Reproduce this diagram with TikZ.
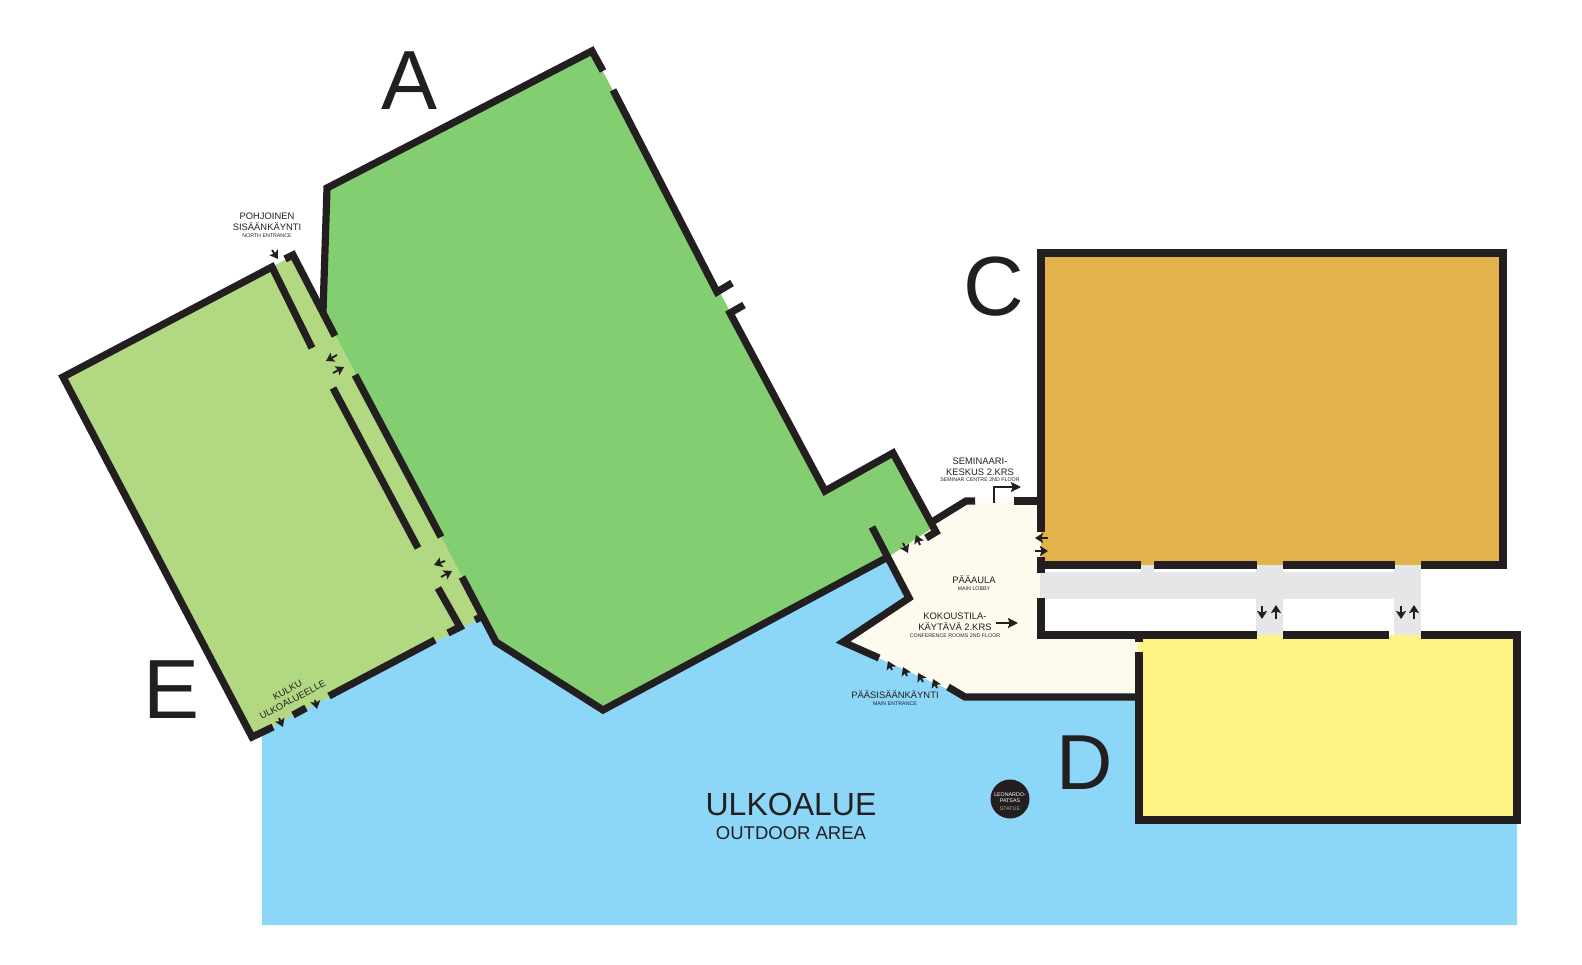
\documentclass[tikz,border=0pt]{standalone}
\usepackage{fontspec}
\setmainfont{Liberation Sans}
\usetikzlibrary{arrows.meta}
\definecolor{inkdark}{HTML}{231F20}
\definecolor{greenA}{HTML}{83CE70}
\definecolor{greenE}{HTML}{B3D882}
\definecolor{orangeC}{HTML}{E2B34B}
\definecolor{yellowD}{HTML}{FFF383}
\definecolor{outdoor}{HTML}{8CD6F8}
\definecolor{lobby}{HTML}{FFFAEE}
\definecolor{corridor}{HTML}{E5E6E8}
\newcommand{\sz}[1]{\fontsize{#1}{#1}\selectfont}
\tikzset{
  wall/.style={draw=inkdark,line width=7.2pt,miter limit=10},
  smallarrow/.style={draw=inkdark,line width=1.9pt,-{Stealth[length=8pt,width=10pt,inset=1.5pt]}},
  bigarrow/.style={draw=inkdark,line width=2.2pt,-{Stealth[length=10pt,width=10pt,inset=1.5pt]}},
  letter/.style={text=inkdark,font=\sz{84}},
  label/.style={text=inkdark,align=center,inner sep=0pt,font=\sz{9.4}},
  sublabel/.style={text=inkdark,inner sep=0pt,font=\sz{5.3}}
}
\begin{document}
\begin{tikzpicture}[x=1pt,y=-1pt]
\useasboundingbox (0,0) rectangle (1582,965);

\fill[outdoor] (262,725) -- (483,610) -- (496,642) -- (603,710) -- (888,557) -- (909,598) -- (843,642) -- (965,697) -- (1138,697) -- (1138,820) -- (1517,820) -- (1517,925) -- (262,925) -- cycle;
\fill[lobby] (888,557) -- (934,527) -- (966,501) -- (1040,501) -- (1040,636) -- (1138,636) -- (1138,697) -- (965,697) -- (948,687) -- (843,642) -- (909,598) -- cycle;
\fill[greenA] (592,51) -- (825,491) -- (893,453) -- (934,527) -- (888,557) -- (603,710) -- (496,642) -- (323,312) -- (327,188) -- cycle;
\fill[greenE] (63,377) -- (272,267) -- (293,255) -- (483,617) -- (252,737) -- cycle;
\fill[orangeC] (1041,253) rectangle (1503,565);
\fill[corridor] (1040,572) rectangle (1421,599);
\fill[corridor] (1141,565) rectangle (1154,572);
\fill[corridor] (1256,565) rectangle (1283,636);
\fill[corridor] (1394,565) rectangle (1421,636);
\fill[yellowD] (1138,635) rectangle (1517,820);

% building A
\draw[wall] (603,71) -- (592,51) -- (327,188) -- (323,312);
\draw[wall] (613,90) -- (717,292) -- (732,283);
\draw[wall] (744,305) -- (730,313) -- (825,491) -- (893,453) -- (936,532) -- (926,538);
\draw[wall] (872,527) -- (909,598) -- (843,642) -- (879,658);
\draw[wall] (462,577) -- (496,642) -- (603,710) -- (888,557);
\draw[wall] (475,620) -- (483,616);
% building E
\draw[wall] (273,727) -- (252,737) -- (63,377) -- (272,267) -- (312,348);
\draw[wall] (285,259) -- (293,255) -- (335,336);
\draw[wall] (355,375) -- (441,537);
\draw[wall] (333,388) -- (418,548);
\draw[wall] (438,588) -- (460,627) -- (448,633);
\draw[wall] (435,640) -- (329,696);
\draw[wall] (306,708) -- (293,715);
% lobby
\draw[wall] (932,522) -- (966,501) -- (975,501);
\draw[wall] (1014,501) -- (1040,501);
\draw[wall] (948,687) -- (965,697) -- (1138,697);
% building C
\draw[wall] (1041,532) -- (1041,253) -- (1503,253) -- (1503,565) -- (1421,565);
\draw[wall] (1041,557) -- (1041,573);
\draw[wall] (1037,565) -- (1141,565);
\draw[wall] (1154,565) -- (1257,565);
\draw[wall] (1283,565) -- (1395,565);
\draw[wall] (1041,598) -- (1041,635) -- (1135,635);
% building D
\draw[wall] (1135,635) -- (1257,635);
\draw[wall] (1283,635) -- (1389,635);
\draw[wall] (1421,635) -- (1517,635) -- (1517,820) -- (1139,820) -- (1139,652);
\draw[wall] (1139,632) -- (1139,642);

% door arrows
\foreach \xa/\ya/\xb/\yb in {272/250/278/259, 337/355/326/361, 333/373/344/367, 445/561/434/565, 441/577/452/571, 279/718/283/727, 315/700/317/709, 903/543/908/553, 920/545/916/535, 892/670/888/661, 907/676/903/667, 923/682/918/673, 937/688/933/679, 1048/538/1035/538, 1035/551/1048/551, 1262/606/1262/619, 1276/619/1276/605, 1401/606/1401/619, 1414/619/1414/605}
    \draw[smallarrow] (\xa,\ya) -- (\xb,\yb);
\draw[bigarrow] (994,503) -- (994,487) -- (1021,487);
\draw[bigarrow] (996,623) -- (1018,623);

\fill[inkdark] (1010,799) circle (19.5);
\node[text=white,inner sep=0pt,font=\sz{5.3}] (statueA) at (1010,794.5) {LEONARDO-};
\node[text=white,inner sep=0pt,font=\sz{5.3}] (statueB) at (1010,801) {PATSAS};
\node[text=corridor!70!inkdark,inner sep=0pt,font=\sz{5.3}] (statueC) at (1010,808.5) {STATUE};

\node[letter] (letterA) at (410,81) {A};
\node[letter] (letterC) at (994,287) {C};
\node[letter,font=\sz{78}] (letterD) at (1085,763) {D};
\node[letter] (letterE) at (172,690) {E};

\node[label] (north) at (267,222) {POHJOINEN\\[1.5pt]SISÄÄNKÄYNTI};
\node[sublabel] (northsub) at (267,236) {NORTH ENTRANCE};
\node[label] (seminar) at (980,467) {SEMINAARI-\\[1.5pt]KESKUS 2.KRS};
\node[sublabel] (seminarsub) at (980,480) {SEMINAR CENTRE 2ND FLOOR};
\node[label] (mainlobby) at (974,580) {PÄÄAULA};
\node[sublabel] (mainlobbysub) at (974,589) {MAIN LOBBY};
\node[label] (confer) at (955,622) {KOKOUSTILA-\\[1.5pt]KÄYTÄVÄ 2.KRS};
\node[sublabel] (confersub) at (955,636) {CONFERENCE ROOMS 2ND FLOOR};
\node[label] (mainent) at (895,695) {PÄÄSISÄÄNKÄYNTI};
\node[sublabel] (mainentsub) at (895,704) {MAIN ENTRANCE};
\node[label,rotate=28] (passage) at (290,695) {KULKU\\[1.5pt]ULKOALUEELLE};
\node[text=inkdark,font=\sz{32}] (outdoorfi) at (791,804) {ULKOALUE};
\node[text=inkdark,font=\sz{18.5}] (outdooren) at (791,833) {OUTDOOR AREA};
\end{tikzpicture}
\end{document}
